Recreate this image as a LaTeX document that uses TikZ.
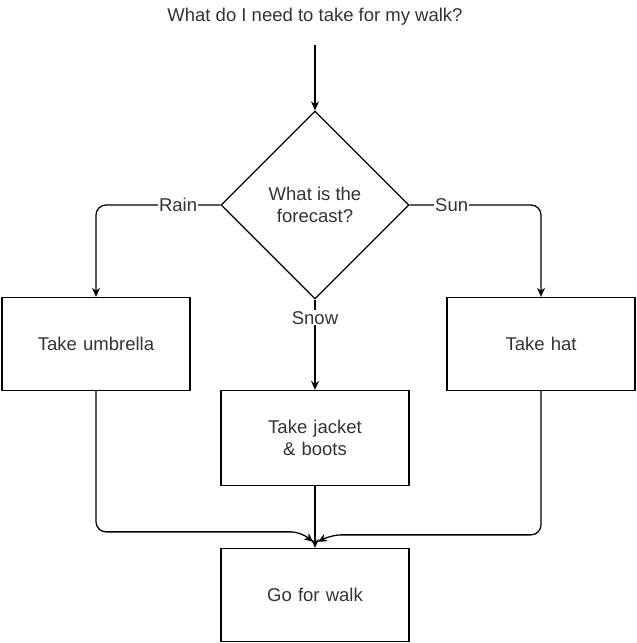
\documentclass[tikz,border=0pt]{standalone}
\usepackage{fontspec}
\setmainfont{Liberation Sans}
\usetikzlibrary{arrows.meta}
\usetikzlibrary{shapes.geometric}
\usetikzlibrary{calc}
\tikzset{
  step box/.style={
    rectangle,
    draw,
    line width=1.3pt,
    minimum width=188pt,
    minimum height=93pt,
    text width=170pt,
    align=center,
    inner sep=0pt,
    text=black!80,
    font=\fontsize{18.5}{22}\selectfont,
  }
}
\tikzset{
  ask node/.style={
    diamond,
    draw,
    line width=1.3pt,
    minimum width=188pt,
    minimum height=188pt,
    inner sep=0pt,
    align=center,
    text=black!80,
    font=\fontsize{18.5}{22}\selectfont,
  }
}
\tikzset{
  flow/.style={
    ->,
    line width=1.3pt,
    rounded corners=10pt,
  },
  answer/.style={
    fill=white,
    inner sep=1pt,
    text=black!80,
    font=\fontsize{18.5}{20}\selectfont,
  }
}

\begin{document}
\begin{tikzpicture}[
    x=1pt,
    y=-1pt,
    >={Stealth[length=9pt,width=8pt]},
    ]

    \useasboundingbox (0,0) rectangle (637,643);

    \node[text=black!80, font=\fontsize{18.5}{20}\selectfont]
      (question) at (315,17) {What do I need to take for my walk?};
    \coordinate (start) at (315,45);

    \node[ask node] (forecast) at (315,205) {What is the\\forecast?};

    \node[step box] (umbrella) at (96,344) {Take umbrella};
    \node[step box] (hat) at (541,344) {Take hat};
    \node[step box, minimum height=95pt] (jacket) at (315,438) {Take jacket\\\& boots};
    \node[step box] (walk) at (315,595) {Go for walk};

    \draw[flow] (start) -- (forecast.north);

    \draw[flow] (forecast.west) -| node[answer, pos=0.17] {Rain} (umbrella.north);
    \draw[flow] (forecast.east) -| node[answer, pos=0.16] {Sun} (hat.north);
    \draw[flow] (forecast.south) -- node[answer, pos=0.2] {Snow} (jacket.north);

    \draw[flow] (jacket.south) -- (walk.north);
    % the two side arrows meet the box top from either side
    \draw[flow] (umbrella.south) |- ($(walk.north)+(-14,-16)$) -- ($(walk.north)+(-2,-6)$);
    \draw[flow] (hat.south) |- ($(walk.north)+(16,-13)$) -- ($(walk.north)+(3,-6)$);

  \end{tikzpicture}
\end{document}
